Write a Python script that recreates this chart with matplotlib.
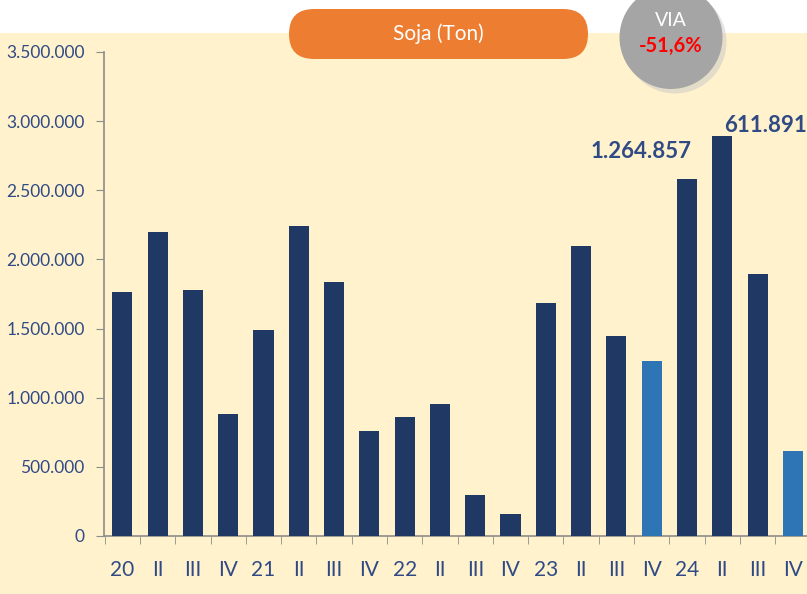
import matplotlib
matplotlib.use("Agg")
import matplotlib.pyplot as plt
from matplotlib.patches import FancyBboxPatch, Circle, Rectangle
from matplotlib.ticker import FuncFormatter, FixedLocator

# data
labels = ["20", "II", "III", "IV", "21", "II", "III", "IV", "22", "II",
          "III", "IV", "23", "II", "III", "IV", "24", "II", "III", "IV"]
values = [1764000, 2198000, 1779000, 882000, 1489000, 2241000, 1837000, 759000,
          860000, 954000, 296000, 159000, 1685000, 2097000, 1446000, 1264857,
          2581000, 2892000, 1894000, 611891]
highlight = [15, 19]
title = "Soja (Ton)"
badge_top = "VIA"
badge_val = "-51,6%"

dark = "#1F3864"
light = "#2E75B6"
cream = "#FFF2CC"
txt = "#2F4A85"

plt.rcParams['font.family'] = ['Lato', 'DejaVu Sans']

fig = plt.figure(figsize=(8.07, 5.94), dpi=100)
fig.patch.set_facecolor("white")
# cream background under the header strip
fig.patches.append(Rectangle((0, 0), 1, (594 - 33) / 594, transform=fig.transFigure,
                             facecolor=cream, edgecolor="none", zorder=-1))

ax = fig.add_axes([104 / 807, 58 / 594, (807 - 104) / 807, 484 / 594])
ax.set_facecolor("none")
ax.set_zorder(1)

x = list(range(len(values)))
colors = [light if i in highlight else dark for i in x]
ax.bar(x, values, width=0.57, color=colors, zorder=3)

ax.set_ylim(0, 3500000)
ax.set_xlim(-0.52, 19.4)
ax.set_yticks(range(0, 3500001, 500000))
ax.yaxis.set_major_formatter(FuncFormatter(lambda v, p: f"{int(v):,}".replace(",", ".")))
ax.set_xticks(x)
ax.set_xticklabels(labels)
ax.xaxis.set_minor_locator(FixedLocator([i - 0.5 for i in range(len(values) + 1)]))

for s in ["top", "right"]:
    ax.spines[s].set_visible(False)
for s in ["left", "bottom"]:
    ax.spines[s].set_color("#8C8C8C")
    ax.spines[s].set_linewidth(1.2)

ax.tick_params(axis="y", direction="out", length=6, color="#8C8C8C", labelsize=12.5,
               labelcolor=txt, pad=8)
ax.tick_params(axis="x", which="major", length=0, labelsize=15, labelcolor=txt, pad=17)
ax.tick_params(axis="x", which="minor", direction="out", length=6, color="#8C8C8C")

# value labels
ax.text(16.13, 2780000, "1.264.857", ha="right", va="center", fontsize=16,
        fontweight="bold", color=txt)
ax.text(17.05, 2970000, "611.891", ha="left", va="center", fontsize=16,
        fontweight="bold", color=txt)

# header pill
tr = fig.dpi_scale_trans
pill = FancyBboxPatch((2.89, (594 - 59) / 100), 2.99, 0.50,
                      boxstyle="round,pad=0,rounding_size=0.25",
                      facecolor="#ED7D31", edgecolor="none", transform=tr, zorder=3)
fig.patches.append(pill)
fig.text(4.385, (594 - 34) / 100, title, transform=tr, ha="center", va="center",
         color="white", fontsize=15, zorder=4)

# badge circle with shadow
fig.patches.append(Circle((6.75, (594 - 42) / 100), 0.515, transform=tr,
                          facecolor="#C8C8C8", edgecolor="none", alpha=0.5, zorder=3))
fig.patches.append(Circle((6.71, (594 - 37.5) / 100), 0.515, transform=tr,
                          facecolor="#A5A5A5", edgecolor="none", zorder=3))
fig.text(6.71, (594 - 20) / 100, badge_top, transform=tr, ha="center", va="center",
         color="white", fontsize=14, zorder=4)
fig.text(6.71, (594 - 46) / 100, badge_val, transform=tr, ha="center", va="center",
         color="#FF0000", fontsize=14.5, fontweight="bold", zorder=4)

fig.savefig("out.png", dpi=100)
